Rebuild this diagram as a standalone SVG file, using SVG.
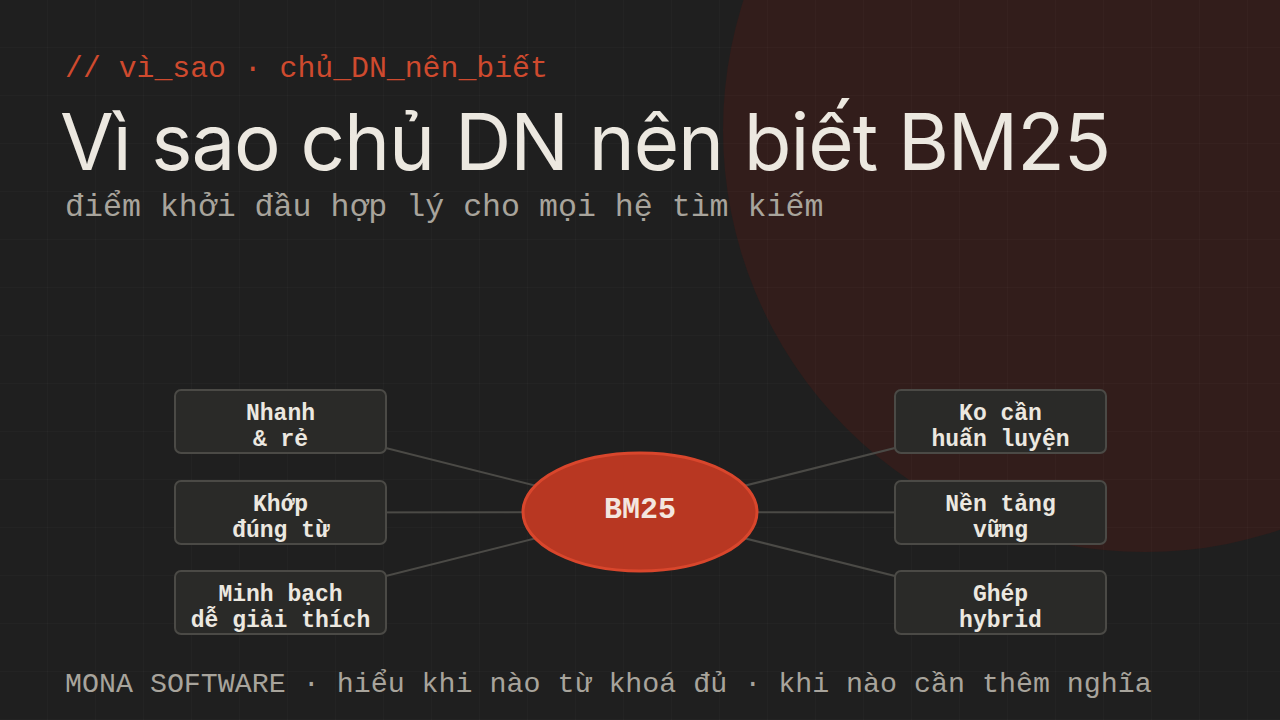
<svg xmlns="http://www.w3.org/2000/svg" width="1280" height="720" viewBox="0 0 1280 720">
<defs>
<pattern id="grid" width="48" height="48" patternUnits="userSpaceOnUse">
<path d="M48 0V48M0 48H48" fill="none" stroke="#ffffff" stroke-opacity="0.035" stroke-width="1"/>
</pattern>
<style>
.box{fill:#2a2a28;stroke:#4b4a46;stroke-width:2}
.bt{font-family:"Liberation Mono","DejaVu Sans Mono",monospace;font-weight:bold;font-size:23px;fill:#ece8e0;text-anchor:middle}
.con{stroke:#4b4a46;stroke-width:2;fill:none}
.mono{font-family:"Liberation Mono","DejaVu Sans Mono",monospace}
</style>
</defs>
<rect width="1280" height="720" fill="#1f1f1f"/>
<circle cx="1145" cy="130" r="422" fill="#321d1b"/>
<rect width="1280" height="720" fill="url(#grid)"/>
<text x="65" y="77" class="mono" font-size="29.8" fill="#cf4a2e">// vì_sao · chủ_DN_nên_biết</text>
<text x="60" y="170" font-family="Inter,'Liberation Sans',sans-serif" font-size="78" fill="#ece8e0" letter-spacing="-1.1">Vì sao chủ DN nên biết BM25</text>
<text x="65" y="216" class="mono" font-size="31.6" fill="#a8a49c">điểm khởi đầu hợp lý cho mọi hệ tìm kiếm</text>
<g id="connectors">
<line class="con" x1="640" y1="512" x2="280.5" y2="421.5"/>
<line class="con" x1="640" y1="512" x2="280.5" y2="512.5"/>
<line class="con" x1="640" y1="512" x2="280.5" y2="602.5"/>
<line class="con" x1="640" y1="512" x2="1000.5" y2="421.5"/>
<line class="con" x1="640" y1="512" x2="1000.5" y2="512.5"/>
<line class="con" x1="640" y1="512" x2="1000.5" y2="602.5"/>
</g>
<g id="n1"><rect class="box" x="175" y="390" width="211" height="63" rx="6"/><text class="bt" x="280.5" y="420">Nhanh</text><text class="bt" x="280.5" y="446">&amp; rẻ</text></g>
<g id="n2"><rect class="box" x="175" y="481" width="211" height="63" rx="6"/><text class="bt" x="280.5" y="511">Khớp</text><text class="bt" x="280.5" y="537">đúng từ</text></g>
<g id="n3"><rect class="box" x="175" y="571" width="211" height="63" rx="6"/><text class="bt" x="280.5" y="601">Minh bạch</text><text class="bt" x="280.5" y="627">dễ giải thích</text></g>
<g id="n4"><rect class="box" x="895" y="390" width="211" height="63" rx="6"/><text class="bt" x="1000.5" y="420">Ko cần</text><text class="bt" x="1000.5" y="446">huấn luyện</text></g>
<g id="n5"><rect class="box" x="895" y="481" width="211" height="63" rx="6"/><text class="bt" x="1000.5" y="511">Nền tảng</text><text class="bt" x="1000.5" y="537">vững</text></g>
<g id="n6"><rect class="box" x="895" y="571" width="211" height="63" rx="6"/><text class="bt" x="1000.5" y="601">Ghép</text><text class="bt" x="1000.5" y="627">hybrid</text></g>
<g id="bm25"><ellipse cx="640" cy="512" rx="117" ry="59" fill="#b83722" stroke="#d9462c" stroke-width="3"/><text x="640" y="518" class="mono" font-weight="bold" font-size="30" fill="#f3e6df" text-anchor="middle">BM25</text></g>
<text x="65" y="692" class="mono" font-size="28.3" fill="#a8a49c">MONA SOFTWARE · hiểu khi nào từ khoá đủ · khi nào cần thêm nghĩa</text>
</svg>
